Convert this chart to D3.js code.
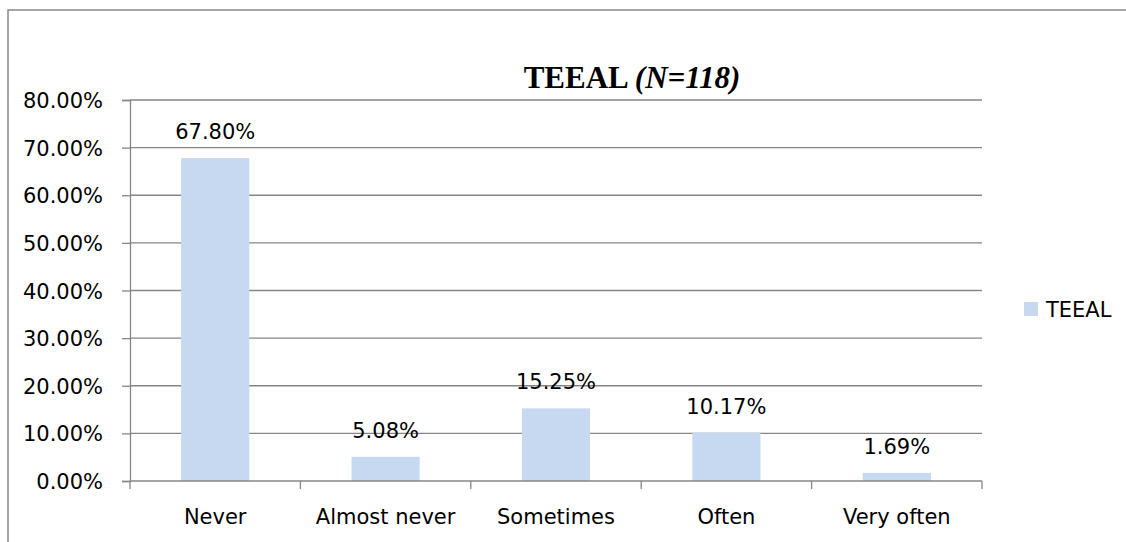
<!DOCTYPE html>
<html><head><meta charset="utf-8">
<script src="https://cdn.jsdelivr.net/npm/d3@7"></script>
<style>
html,body{margin:0;padding:0;background:#fff;}
svg{display:block;}
text{font-family:"DejaVu Sans",sans-serif;fill:#000;}
</style></head>
<body>
<svg id="chart" width="1126" height="542"></svg>
<script>
const categories = ["Never", "Almost never", "Sometimes", "Often", "Very often"];
const values = [67.80, 5.08, 15.25, 10.17, 1.69];
const yTicks = [0, 10, 20, 30, 40, 50, 60, 70, 80];
const seriesName = "TEEAL";

(function () {
const svg = d3.select("#chart");
const W = 1126, H = 542;
const pL = 130, pR = 982, pT = 100, pB = 481;
const FS = 21;

// outer frame
svg.append("path")
  .attr("d", `M8,${H+2} L8,10 L${W+2},10`)
  .attr("fill", "none").attr("stroke", "#898989").attr("stroke-width", 1.5);

const x = d3.scaleBand().domain(categories).range([pL, pR]).paddingInner(0.6).paddingOuter(0.3);
const xb = d3.scaleBand().domain(categories).range([pL, pR]);
const y = d3.scaleLinear().domain([0, 80]).range([pB, pT]);

// gridlines
svg.append("g").selectAll("line").data(yTicks.filter(d => d > 0)).join("line")
  .attr("x1", pL).attr("x2", pR)
  .attr("y1", d => y(d)).attr("y2", d => y(d))
  .attr("stroke", "#868686").attr("stroke-width", 1.3);

// y axis
const yAxis = svg.append("g").attr("transform", `translate(${pL},0)`)
  .call(d3.axisLeft(y).tickValues(yTicks).tickFormat(d => d.toFixed(2) + "%").tickSize(8).tickPadding(19));
yAxis.select(".domain").attr("stroke", "#868686").attr("stroke-width", 1.3);
yAxis.selectAll(".tick line").attr("stroke", "#868686").attr("stroke-width", 1.3);
yAxis.selectAll(".tick text").attr("font-size", FS).attr("font-family", "DejaVu Sans").attr("fill", "#000").attr("dy", "0.36em");

// bars
svg.append("g").selectAll("rect").data(values).join("rect")
  .attr("x", (d, i) => x(categories[i]))
  .attr("width", x.bandwidth())
  .attr("y", d => y(d))
  .attr("height", d => y(0) - y(d))
  .attr("fill", "#C6D9F1");

// x axis
svg.append("line").attr("x1", pL).attr("x2", pR).attr("y1", pB).attr("y2", pB)
  .attr("stroke", "#868686").attr("stroke-width", 1.3);
const bounds = categories.map(c => xb(c)).concat([pR]);
svg.append("g").selectAll("line").data(bounds).join("line")
  .attr("x1", d => d).attr("x2", d => d).attr("y1", pB).attr("y2", pB + 8)
  .attr("stroke", "#868686").attr("stroke-width", 1.3);
svg.append("g").selectAll("text").data(categories).join("text")
  .attr("x", d => xb(d) + xb.bandwidth() / 2)
  .attr("y", 524)
  .attr("text-anchor", "middle").attr("font-size", FS)
  .text(d => d);

// data labels
svg.append("g").selectAll("text").data(values).join("text")
  .attr("x", (d, i) => x(categories[i]) + x.bandwidth() / 2)
  .attr("y", d => y(d) - 19)
  .attr("text-anchor", "middle").attr("font-size", FS)
  .text(d => d.toFixed(2) + "%");

// title
const title = svg.append("text").attr("x", 632).attr("y", 88).attr("text-anchor", "middle")
  .style("font-family", "'Liberation Serif','Times New Roman',serif").attr("font-size", 31).attr("font-weight", "bold");
title.append("tspan").style("font-family", "'Liberation Serif',serif").text(seriesName + " ");
title.append("tspan").style("font-family", "'Liberation Serif',serif").attr("font-style", "italic").text("(N=118)");

// legend
svg.append("rect").attr("x", 1024).attr("y", 302).attr("width", 14).attr("height", 14).attr("fill", "#C6D9F1");
svg.append("text").attr("x", 1046).attr("y", 317).attr("font-size", FS).text(seriesName);
})();
</script>
</body></html>
